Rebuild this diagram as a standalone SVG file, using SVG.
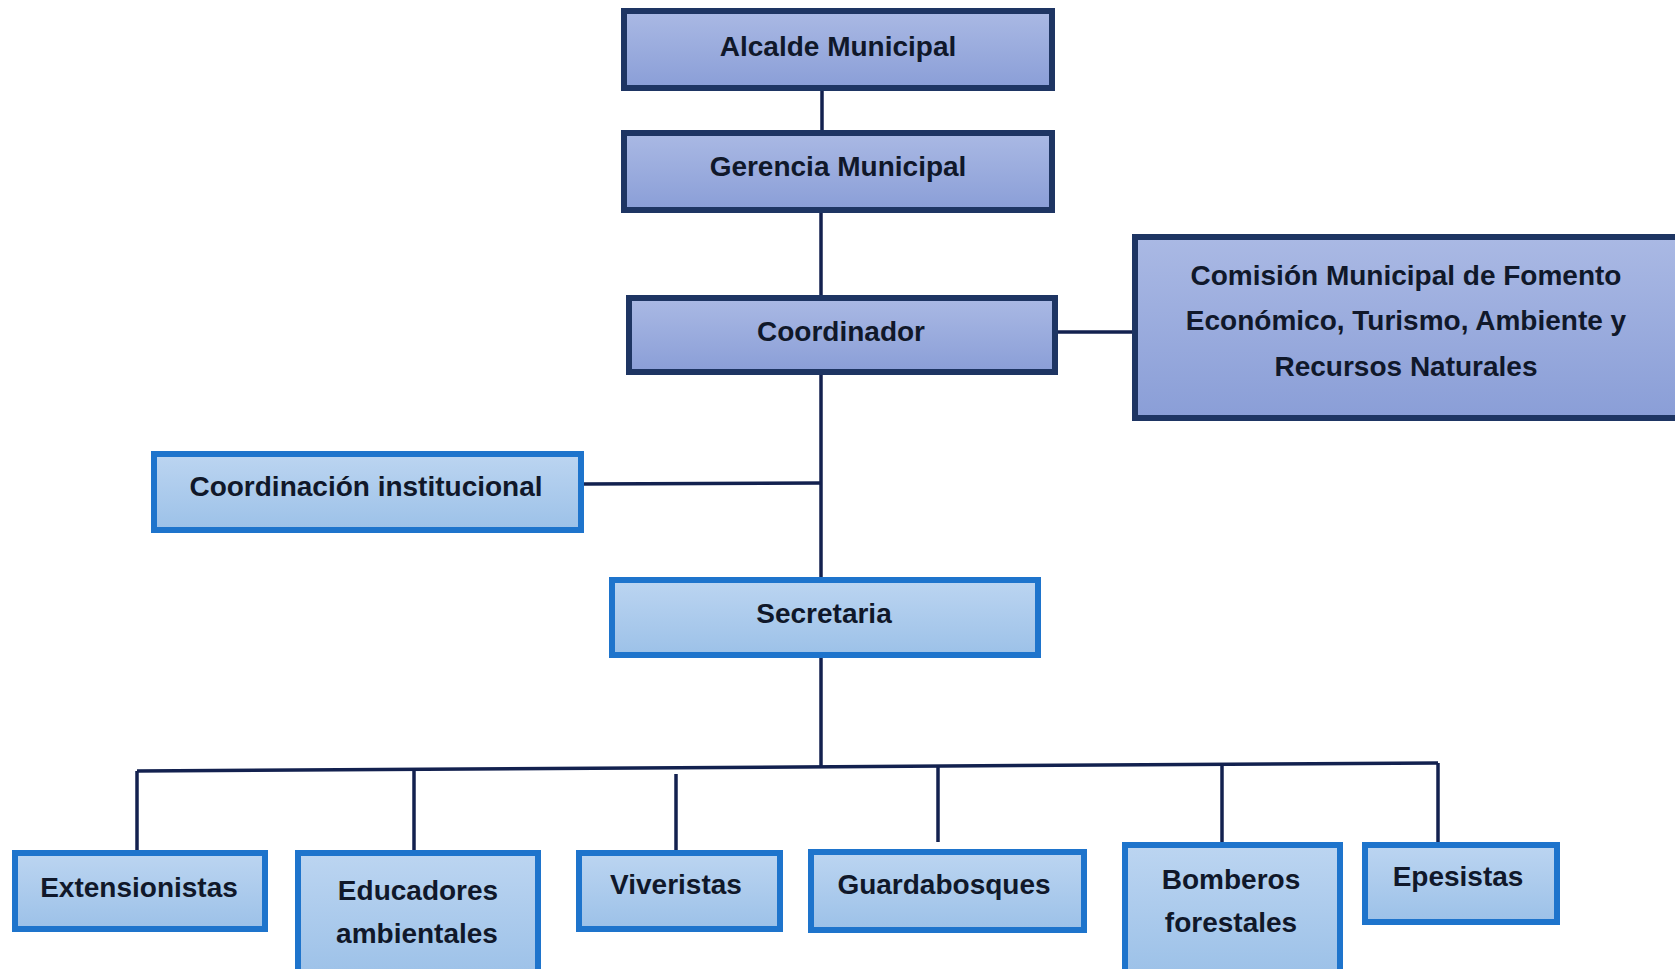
<svg xmlns="http://www.w3.org/2000/svg" width="1675" height="969" viewBox="0 0 1675 969">
<defs>
<linearGradient id="gTop" x1="0" y1="0" x2="0" y2="1">
<stop offset="0" stop-color="#AAB9E4"/>
<stop offset="1" stop-color="#8A9ED7"/>
</linearGradient>
<linearGradient id="gLow" x1="0" y1="0" x2="0" y2="1">
<stop offset="0" stop-color="#BCD5F1"/>
<stop offset="1" stop-color="#9CC1E8"/>
</linearGradient>
<style>
.top{fill:url(#gTop);stroke:#1E3563;stroke-width:6}
.low{fill:url(#gLow);stroke:#1E74CC;stroke-width:6}
.t{font-family:"Liberation Sans",Arial,sans-serif;font-weight:bold;font-size:28px;fill:#10182A;text-anchor:middle}
.c{stroke:#13214F;stroke-width:3.5;fill:none}
</style>
</defs>
<rect width="1675" height="969" fill="#FFFFFF"/>
<g id="connectors">
<line class="c" x1="822" y1="91" x2="822" y2="130"/>
<line class="c" x1="821" y1="213" x2="821" y2="295"/>
<line class="c" x1="1058" y1="332" x2="1132" y2="332"/>
<line class="c" x1="821" y1="375" x2="821" y2="577"/>
<line class="c" x1="584" y1="484" x2="821" y2="483"/>
<line class="c" x1="821" y1="658" x2="821" y2="767"/>
<line class="c" x1="137" y1="771" x2="1438" y2="763"/>
<line class="c" x1="137" y1="771" x2="137" y2="850"/>
<line class="c" x1="414" y1="770" x2="414" y2="850"/>
<line class="c" x1="676" y1="774" x2="676" y2="850"/>
<line class="c" x1="938" y1="767" x2="938" y2="842"/>
<line class="c" x1="1222" y1="765" x2="1222" y2="842"/>
<line class="c" x1="1438" y1="763" x2="1438" y2="842"/>
</g>
<g id="alcalde">
<rect class="top" x="624" y="11" width="428" height="77"/>
<text class="t" x="838" y="56">Alcalde Municipal</text>
</g>
<g id="gerencia">
<rect class="top" x="624" y="133" width="428" height="77"/>
<text class="t" x="838" y="176">Gerencia Municipal</text>
</g>
<g id="coordinador">
<rect class="top" x="629" y="298" width="426" height="74"/>
<text class="t" x="841" y="341">Coordinador</text>
</g>
<g id="comision">
<rect class="top" x="1135" y="237" width="545" height="181"/>
<text class="t" x="1406" y="285">Comisión Municipal de Fomento</text>
<text class="t" x="1406" y="330">Económico, Turismo, Ambiente y</text>
<text class="t" x="1406" y="376">Recursos Naturales</text>
</g>
<g id="coordinacion">
<rect class="low" x="154" y="454" width="427" height="76"/>
<text class="t" x="366" y="496">Coordinación institucional</text>
</g>
<g id="secretaria">
<rect class="low" x="612" y="580" width="426" height="75"/>
<text class="t" x="824" y="623">Secretaria</text>
</g>
<g id="extensionistas">
<rect class="low" x="15" y="853" width="250" height="76"/>
<text class="t" x="139" y="897">Extensionistas</text>
</g>
<g id="educadores">
<rect class="low" x="298" y="853" width="240" height="125"/>
<text class="t" x="418" y="900">Educadores</text>
<text class="t" x="417" y="943">ambientales</text>
</g>
<g id="viveristas">
<rect class="low" x="579" y="853" width="201" height="76"/>
<text class="t" x="676" y="894">Viveristas</text>
</g>
<g id="guardabosques">
<rect class="low" x="811" y="852" width="273" height="78"/>
<text class="t" x="944" y="894">Guardabosques</text>
</g>
<g id="bomberos">
<rect class="low" x="1125" y="845" width="215" height="130"/>
<text class="t" x="1231" y="889">Bomberos</text>
<text class="t" x="1231" y="932">forestales</text>
</g>
<g id="epesistas">
<rect class="low" x="1365" y="845" width="192" height="77"/>
<text class="t" x="1458" y="886">Epesistas</text>
</g>
</svg>
